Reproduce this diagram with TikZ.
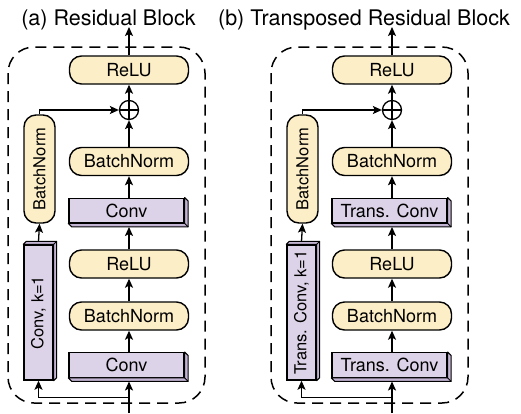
\documentclass[tikz,border=0pt]{standalone}
\usepackage{fontspec}
\setmainfont{TeX Gyre Heros}
\usetikzlibrary{arrows.meta,calc}
\definecolor{cream}{HTML}{FCEEC6}
\definecolor{lav}{HTML}{DDD3E8}
\definecolor{lavdark}{HTML}{C2B4D2}
\tikzset{
  rbox/.style={draw, line width=1.4pt, fill=cream, rounded corners=12pt, minimum width=119pt, minimum height=28pt, inner sep=0pt, font=\fontsize{18}{20}\selectfont},
  cbox/.style={draw, line width=1.4pt, fill=lav, minimum width=115pt, minimum height=24.5pt, inner sep=0pt, font=\fontsize{18}{20}\selectfont},
  vtxt/.style={font=\fontsize{16.5}{19}\selectfont},
  arr/.style={line width=1.3pt, -{Stealth[length=9pt,width=8pt,inset=2pt]}},
  ln/.style={line width=1.3pt},
  frame/.style={draw, dash pattern=on 11pt off 7pt, line width=1.5pt, rounded corners=26pt},
  ttl/.style={font=\fontsize{21.5}{24}\selectfont},
  extr/.style={fill=lavdark, draw, line width=1pt, line join=round},
  plusnode/.style={circle, draw, line width=1.3pt, minimum size=19pt, inner sep=0pt, fill=white}
}
% #1 node, #2 dx, #3 dy
\newcommand\extrude[3]{%
  \filldraw[extr] (#1.north east) -- ([shift={(#2,#3)}]#1.north east) -- ([shift={(#2,#3)}]#1.south east) -- ([shift={(#2,#3)}]#1.south west) -- (#1.south west) -- (#1.south east) -- cycle;
  \draw[line width=1pt] (#1.south east) -- ([shift={(#2,#3)}]#1.south east);
}
% #1 prefix, #2 xshift, #3 conv text, #4 vertical conv text, #5 title, #6 title x
\newcommand\drawpanel[6]{%
\node[ttl, anchor=base] (#1title) at (#6,25) {#5};
\begin{scope}[xshift=#2]
  \draw[frame] (8,47) rectangle (205,403);
  \node[rbox] (#1relu1) at (129,70) {ReLU};
  \node[plusnode] (#1plus) at (129,110) {};
  \draw[ln] (#1plus.north) -- (#1plus.south) (#1plus.west) -- (#1plus.east);
  \node[rbox] (#1bn1) at (129,161.5) {BatchNorm};
  \node[cbox] (#1c1) at (126.5,210.5) {#3};
  \extrude{#1c1}{3.5}{3.5}
  \node[rbox] (#1relu2) at (129,264) {ReLU};
  \node[rbox] (#1bn2) at (129,316) {BatchNorm};
  \node[cbox] (#1c2) at (126.5,365) {#3};
  \extrude{#1c2}{3.5}{3.5}
  \node[cbox, rotate=90, minimum width=135pt, minimum height=29pt, vtxt] (#1ck) at (38.5,312.5) {#4};
  \extrude{#1ck}{3}{-3}
  \node[rbox, rotate=90, minimum width=108pt, minimum height=31pt, vtxt] (#1bnv) at (39.5,169) {BatchNorm};
  \coordinate (#1in) at (129,413);
  \coordinate (#1j) at (129,397.5);
  \coordinate (#1out) at (129,27);
  \draw[arr] (#1in) -- ([yshift=-3.5pt]#1in |- #1c2.south);
  \draw[arr] (#1j) -| (#1ck.west);
  \draw[arr] (#1bn2.south |- #1c2.north) -- (#1bn2.south);
  \draw[arr] (#1bn2.north) -- (#1relu2.south);
  \draw[arr] (#1relu2.north) -- ([yshift=-3.5pt]#1relu2.north |- #1c1.south);
  \draw[arr] (#1bn1.south |- #1c1.north) -- (#1bn1.south);
  \draw[arr] (#1bn1.north) -- (#1plus.south);
  \draw[arr] (#1plus.north) -- (#1relu1.south);
  \draw[arr] (#1relu1.north) -- (#1out);
  \draw[arr] ([yshift=3pt]#1ck.east) -- (#1bnv.west);
  \draw[arr] (#1bnv.east) |- (#1plus.west);
\end{scope}}
\begin{document}
\begin{tikzpicture}[x=1pt, y=-1pt]
\useasboundingbox (0,0) rectangle (521,413);
\drawpanel{a}{0pt}{Conv}{Conv, k=1}{(a) Residual Block}{108.5}
\drawpanel{b}{263pt}{Trans. Conv}{Trans. Conv, k=1}{(b) Transposed Residual Block}{364}
\end{tikzpicture}
\end{document}
